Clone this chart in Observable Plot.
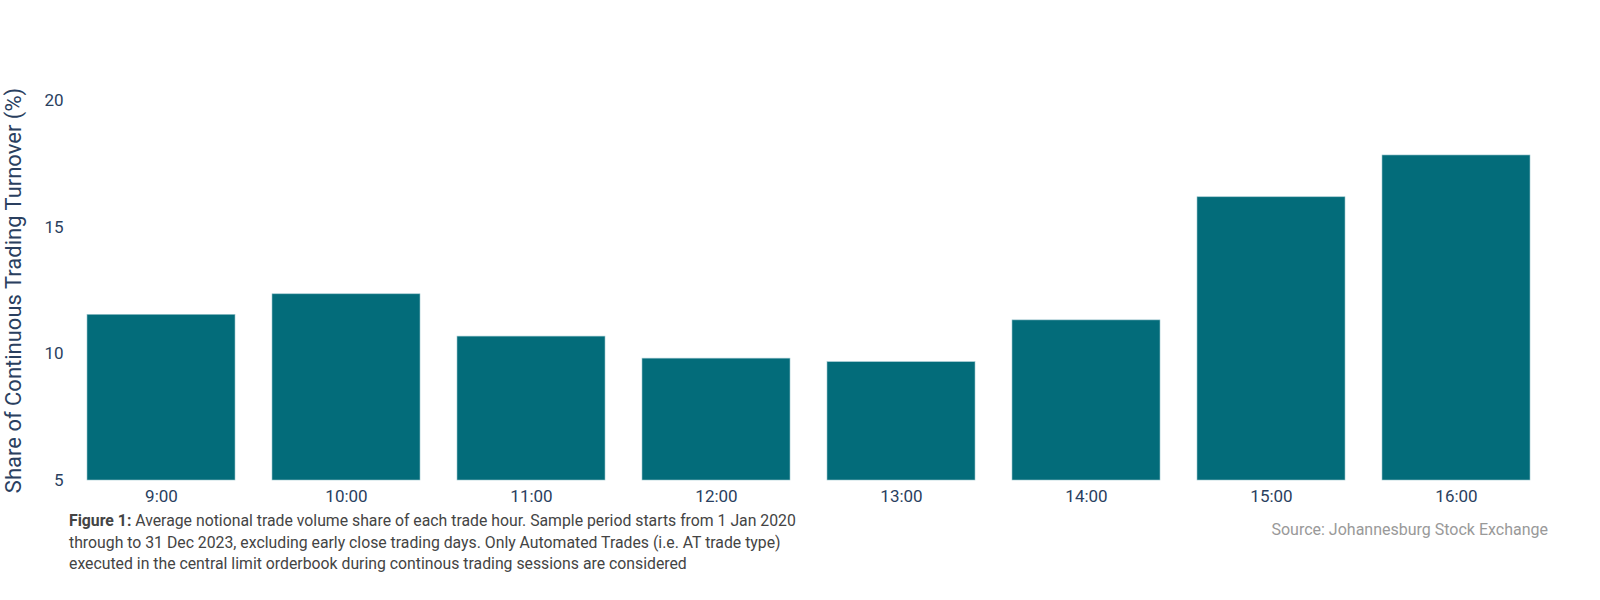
<!DOCTYPE html>
<html>
<head>
<meta charset="utf-8">
<script src="https://cdn.jsdelivr.net/npm/d3@7"></script>
<script src="https://cdn.jsdelivr.net/npm/@observablehq/plot@0.6"></script>
<style>
  html, body { margin: 0; padding: 0; background: #fff; overflow: hidden; width: 1600px; height: 600px; font-family: Roboto, "Noto Sans", sans-serif; }
  #wrap { position: relative; width: 1600px; height: 600px; overflow: hidden; }
  #chart svg { display: block; }
  #caption { position: absolute; left: 69px; top: 510px; font-size: 15.8px; line-height: 21.5px; color: #444; white-space: nowrap; }
  #caption b { font-weight: 700; }
  #source { position: absolute; right: 52px; top: 520px; font-size: 16px; line-height: 20px; color: #999; white-space: nowrap; }
</style>
</head>
<body>
<div id="wrap">
  <div id="chart"></div>
  <div id="caption"><b>Figure 1:</b> Average notional trade volume share of each trade hour. Sample period starts from 1 Jan 2020<br>through to 31 Dec 2023, excluding early close trading days. Only Automated Trades (i.e. AT trade type)<br>executed in the central limit orderbook during continous trading sessions are considered</div>
  <div id="source">Source: Johannesburg Stock Exchange</div>
</div>
<script>
const hours = ["9:00", "10:00", "11:00", "12:00", "13:00", "14:00", "15:00", "16:00"];
const shares = [11.54, 12.35, 10.68, 9.81, 9.67, 11.32, 16.18, 17.83];
const yTicks = [5, 10, 15, 20];
const yTitle = "Share of Continuous Trading Turnover (%)";

const data = hours.map((h, i) => ({hour: h, share: shares[i]}));

const chart = Plot.plot({
  width: 1600,
  height: 510,
  marginLeft: 68,
  marginRight: 51,
  marginTop: 100,
  marginBottom: 30,
  style: {fontFamily: "Roboto, sans-serif", background: "#fff"},
  x: {domain: hours, paddingInner: 0.2, paddingOuter: 0.1, label: null},
  y: {domain: [5, 20], label: null},
  marks: [
    Plot.rectY(data, {x: "hour", y1: 5, y2: "share", fill: "#036c7a", stroke: "#9cc6cd", strokeWidth: 0.6}),
    Plot.axisX({tickSize: 0, tickPadding: 9, fontSize: 17, color: "#2a3f5f", label: null}),
    Plot.axisY({ticks: yTicks, tickSize: 0, tickPadding: 5, fontSize: 17, color: "#2a3f5f", label: null, tickFormat: d => String(d)}),
    Plot.text([yTitle], {frameAnchor: "left", rotate: -90, dx: -55, text: d => d, fontSize: 22, fill: "#2a3f5f", textAnchor: "middle", lineAnchor: "middle"})
  ]
});
document.getElementById("chart").appendChild(chart);
</script>
</body>
</html>
